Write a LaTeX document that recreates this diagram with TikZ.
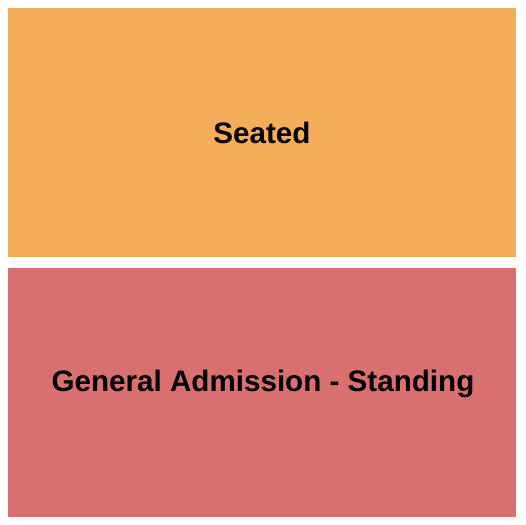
\documentclass[tikz,border=0pt]{standalone}
\usepackage{fontspec}
\setmainfont{Liberation Sans}
\definecolor{seatcol}{HTML}{F4AE5A}
\definecolor{gacol}{HTML}{D87070}
\tikzset{
  zone/.style={draw=none, inner sep=0pt, minimum width=508bp},
  zlabel/.style={anchor=base, inner sep=0pt, font=\fontsize{29.6bp}{34bp}\selectfont\bfseries, text=black}
}
\begin{document}
\begin{tikzpicture}[x=1bp,y=-1bp]
\useasboundingbox (0,0) rectangle (525,525);
\fill[white] (0,0) rectangle (525,525);
\node[zone, fill=seatcol, minimum height=249bp, anchor=north west] (seated) at (8,8) {};
\node[zone, fill=gacol, minimum height=249bp, anchor=north west] (ga) at (8,268) {};
\node[zlabel] (seatedlbl) at (262,143.3) {Seated};
\node[zlabel] (galbl) at (263,391.7) {General Admission - Standing};
\end{tikzpicture}
\end{document}
